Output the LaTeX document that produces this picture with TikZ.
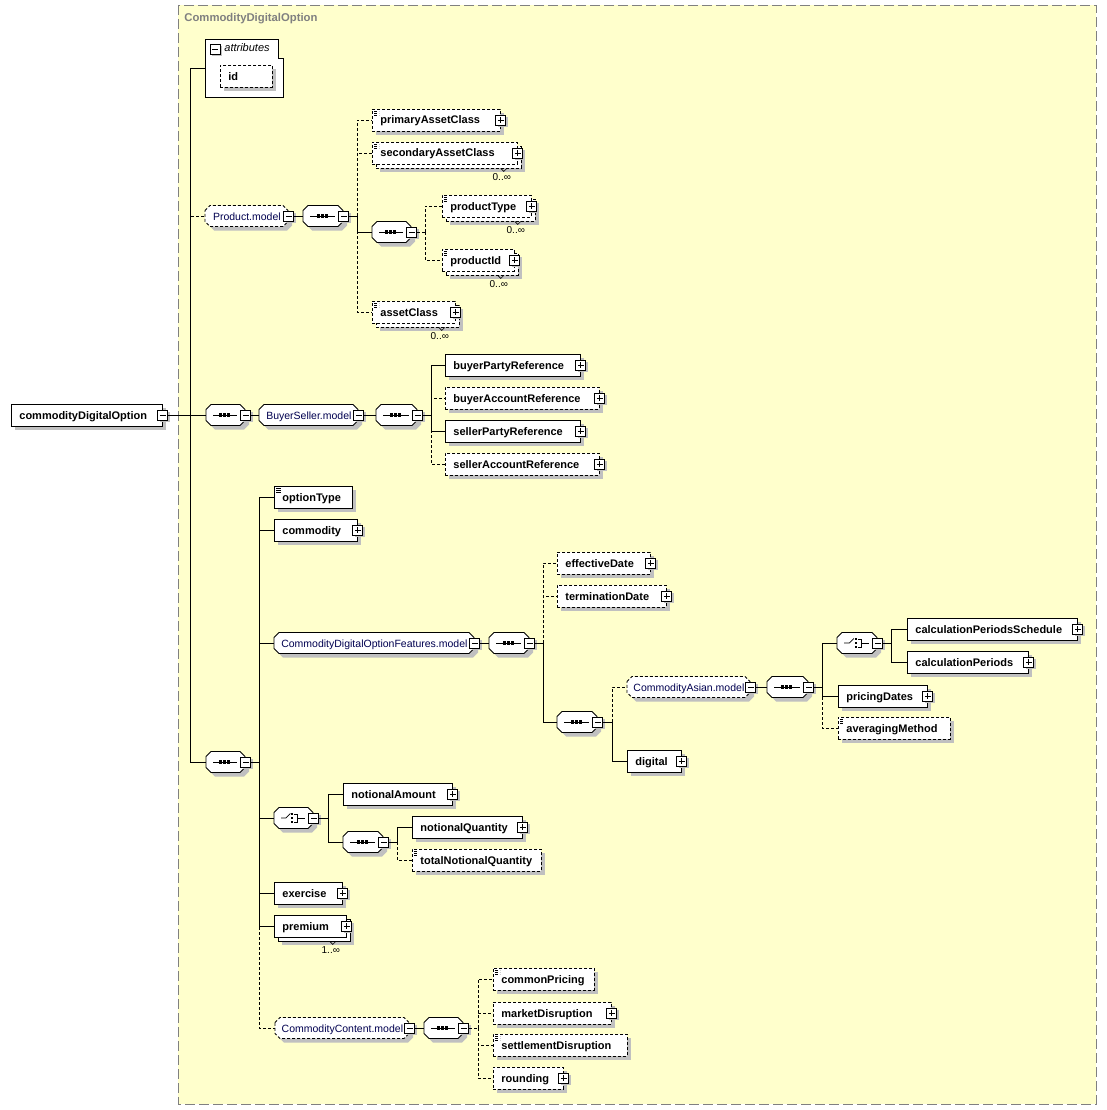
\documentclass[tikz,border=0pt]{standalone}
\usepackage{fontspec}
\setmainfont{Liberation Sans}
\usetikzlibrary{shadows,calc}

\definecolor{bgyellow}{RGB}{255,255,204}
\definecolor{framegray}{RGB}{128,128,128}
\definecolor{shadegray}{RGB}{192,192,192}
\definecolor{grptext}{RGB}{0,0,80}

\tikzset{
  opt/.style={dash pattern=on 3pt off 2pt},
  shade4/.style={drop shadow={shadow xshift=4pt,shadow yshift=-4pt,fill=shadegray,opacity=1}},
  elem/.style={draw, fill=white, anchor=west, minimum height=22pt, inner xsep=8pt, inner ysep=0pt,
    text width=#1, text height=10pt, text depth=2pt, align=left,
    font=\fontsize{11}{13}\selectfont\bfseries, shade4},
  multi/.style={drop shadow={shadow xshift=8pt,shadow yshift=-8pt,fill=shadegray,opacity=1},
    copy shadow={shadow xshift=4pt,shadow yshift=-4pt,fill=white,draw=black,opacity=1,#1}},
  simple/.style={path picture={
    \draw[line width=.7pt] ([shift={(2pt,-2.5pt)}]path picture bounding box.north west) -- ++(5pt,0pt);
    \draw[line width=.7pt] ([shift={(2pt,-4.5pt)}]path picture bounding box.north west) -- ++(5pt,0pt);
    \draw[line width=.7pt] ([shift={(2pt,-6.5pt)}]path picture bounding box.north west) -- ++(5pt,0pt);}},
  grpline/.style={draw, fill=white, shade4},
  grpbox/.style={anchor=west, inner sep=0pt, minimum height=21pt, minimum width=#1,
    text height=9.5pt, text depth=1.5pt, font=\fontsize{10.5}{12}\selectfont, text=grptext},
  xm/.style={draw, fill=white, minimum size=10pt, inner sep=0pt,
    drop shadow={shadow xshift=2pt,shadow yshift=-2pt,fill=shadegray,opacity=1},
    path picture={\draw ([xshift=2pt]path picture bounding box.west) -- ([xshift=-2pt]path picture bounding box.east);}},
  xp/.style={draw, fill=white, minimum size=10pt, inner sep=0pt,
    drop shadow={shadow xshift=2pt,shadow yshift=-2pt,fill=shadegray,opacity=1},
    path picture={\draw ([xshift=2pt]path picture bounding box.west) -- ([xshift=-2pt]path picture bounding box.east);
      \draw ([yshift=-2pt]path picture bounding box.north) -- ([yshift=2pt]path picture bounding box.south);}},
  mult/.style={font=\fontsize{10}{12}\selectfont, inner sep=0pt},
}

% model group / compositor: octagon, then a named node on it
% #1 options, #2 name, #3 left x, #4 centre y, #5 width, #6 text
\newcommand\grp[6][]{%
  \path[grpline,#1] (#3,{#4-5.5}) -- ({#3+5},{#4-10.5}) -- ({#3+#5-5},{#4-10.5}) -- ({#3+#5},{#4-5.5})
    -- ({#3+#5},{#4+5.5}) -- ({#3+#5-5},{#4+10.5}) -- ({#3+5},{#4+10.5}) -- (#3,{#4+5.5}) -- cycle;
  \node[grpbox=#5pt] (#2) at (#3,#4) {#6};}

% sequence glyph
\newcommand\seqicon[1]{%
  \draw ($(#1.west)+(7,0)$) -- ($(#1.east)+(-9,0)$);
  \fill ($(#1.center)+(-6.8,-1.6)$) rectangle ++(3,3.2);
  \fill ($(#1.center)+(-2.8,-1.6)$) rectangle ++(3,3.2);
  \fill ($(#1.center)+(1.2,-1.6)$) rectangle ++(3,3.2);}

% choice glyph
\newcommand\choiceicon[1]{%
  \draw ($(#1.west)+(7,0)$) -- ($(#1.center)+(-8,0)$) -- ($(#1.center)+(-3.5,-4.5)$);
  \fill ($(#1.center)+(-2.5,-5)$) rectangle ++(2,2);
  \fill ($(#1.center)+(-2.5,-1)$) rectangle ++(2,2);
  \fill ($(#1.center)+(-2.5,3)$) rectangle ++(2,2);
  \draw ($(#1.center)+(0.5,-4)$) -- ++(3,0) -- ++(0,8) -- ++(-3,0);
  \draw ($(#1.center)+(3.5,0)$) -- ($(#1.east)+(-9,0)$);}

% cardinality label under a repeated element
\newcommand\card[2]{%
  \node[mult] (#1-m) at ($(#1.south east)+(-16,13)$) {#2};
  \draw[line width=.6pt] ($(#1.south east)+(-17,4)$) -- ++(3,3) -- ++(3,-3);}

\begin{document}
\begin{tikzpicture}[x=1pt,y=-1pt,line width=.8pt]
\useasboundingbox (0,0) rectangle (1107,1110);

% frame of the complex type
\fill[bgyellow] (178,5) rectangle (1096,1104);
\draw[framegray, dash pattern=on 10pt off 4pt] (178,5) rectangle (1096,1104);
\node[anchor=west, inner sep=0pt, text=framegray, font=\fontsize{11.3}{13}\selectfont\bfseries] (ttl) at (184,19) {CommodityDigitalOption};

% root
\node[elem=135pt] (cdo) at (11,415) {commodityDigitalOption};
\node[xm] (cdo-x) at (cdo.east) {};

% attributes
\node[anchor=north west, minimum width=78pt, minimum height=58pt, inner sep=0pt] (att) at (205,39) {};
\draw[fill=white] (att.north west) -- ($(att.north east)+(-5,0)$) -- ($(att.north east)+(-5,19)$)
  -- ($(att.north east)+(0,19)$) -- (att.south east) -- (att.south west) -- cycle;
\node[xm] (att-x) at (215,49) {};
\node[anchor=west, inner sep=0pt, font=\fontsize{11}{13}\selectfont\itshape] (att-t) at (224,48) {attributes};
\node[elem=36pt, opt] (id) at (220,76.5) {id};

% Product.model
\grp[opt]{prod}{205}{216}{83}{Product.model}
\node[xm] (prod-x) at (prod.east) {};
\grp{seqP}{303}{216}{40}{}\seqicon{seqP}
\node[xm] (seqP-x) at (seqP.east) {};
\node[elem=112pt, opt, simple] (pac) at (372,120) {primaryAssetClass};
\node[xp] (pac-x) at (pac.east) {};
\node[elem=129pt, opt, simple, multi=opt] (sac) at (372,153) {secondaryAssetClass};
\node[xp] (sac-x) at (sac.east) {};
\card{sac}{0..∞}
\grp{seqP2}{372}{232}{39}{}\seqicon{seqP2}
\node[xm] (seqP2-x) at (seqP2.east) {};
\node[elem=73pt, opt, simple, multi=opt] (ptype) at (442,206) {productType};
\node[xp] (ptype-x) at (ptype.east) {};
\card{ptype}{0..∞}
\node[elem=56pt, opt, simple, multi=opt] (pid) at (442,260) {productId};
\node[xp] (pid-x) at (pid.east) {};
\card{pid}{0..∞}
\node[elem=67pt, opt, simple, multi=opt] (acl) at (372,312) {assetClass};
\node[xp] (acl-x) at (acl.east) {};
\card{acl}{0..∞}

% BuyerSeller.model
\grp{seqB}{206}{415}{39}{}\seqicon{seqB}
\node[xm] (seqB-x) at (seqB.east) {};
\grp{bsm}{259}{415}{99}{BuyerSeller.model}
\node[xm] (bsm-x) at (bsm.east) {};
\grp{seqB2}{376}{415}{41}{}\seqicon{seqB2}
\node[xm] (seqB2-x) at (seqB2.east) {};
\node[elem=119pt] (bpr) at (445,365) {buyerPartyReference};
\node[xp] (bpr-x) at (bpr.east) {};
\node[elem=138pt, opt] (bar) at (445,398) {buyerAccountReference};
\node[xp] (bar-x) at (bar.east) {};
\node[elem=119pt] (spr) at (445,431) {sellerPartyReference};
\node[xp] (spr-x) at (spr.east) {};
\node[elem=138pt, opt] (sar) at (445,464) {sellerAccountReference};
\node[xp] (sar-x) at (sar.east) {};

% option body
\grp{seqC}{206}{762}{39}{}\seqicon{seqC}
\node[xm] (seqC-x) at (seqC.east) {};
\node[elem=62pt, simple] (otype) at (274,497) {optionType};
\node[elem=67pt] (comm) at (274,530) {commodity};
\node[xp] (comm-x) at (comm.east) {};

\grp{cdof}{274}{643}{200}{CommodityDigitalOptionFeatures.model}
\node[xm] (cdof-x) at (cdof.east) {};
\grp{seqD}{489}{643}{40}{}\seqicon{seqD}
\node[xm] (seqD-x) at (seqD.east) {};
\node[elem=77pt, opt] (efd) at (557,563) {effectiveDate};
\node[xp] (efd-x) at (efd.east) {};
\node[elem=93pt, opt] (trd) at (557,596) {terminationDate};
\node[xp] (trd-x) at (trd.east) {};
\grp{seqE}{557}{722}{40}{}\seqicon{seqE}
\node[xm] (seqE-x) at (seqE.east) {};
\grp[opt]{cam}{627}{687}{123}{CommodityAsian.model}
\node[xm] (cam-x) at (cam.east) {};
\grp{seqF}{767}{687}{41}{}\seqicon{seqF}
\node[xm] (seqF-x) at (seqF.east) {};
\grp{chA}{837}{643}{40}{}\choiceicon{chA}
\node[xm] (chA-x) at (chA.east) {};
\node[elem=154pt] (cps) at (907,629) {calculationPeriodsSchedule};
\node[xp] (cps-x) at (cps.east) {};
\node[elem=105pt] (cpd) at (907,662) {calculationPeriods};
\node[xp] (cpd-x) at (cpd.east) {};
\node[elem=73pt] (prd) at (838,696) {pricingDates};
\node[xp] (prd-x) at (prd.east) {};
\node[elem=96pt, opt, simple] (avm) at (838,728) {averagingMethod};
\node[elem=38pt] (dig) at (627,761) {digital};
\node[xp] (dig-x) at (dig.east) {};

\grp{chB}{274}{818}{39}{}\choiceicon{chB}
\node[xm] (chB-x) at (chB.east) {};
\node[elem=93pt] (nam) at (343,794) {notionalAmount};
\node[xp] (nam-x) at (nam.east) {};
\grp{seqG}{343}{842}{40}{}\seqicon{seqG}
\node[xm] (seqG-x) at (seqG.east) {};
\node[elem=94pt] (nqt) at (412,827) {notionalQuantity};
\node[xp] (nqt-x) at (nqt.east) {};
\node[elem=113pt, opt, simple] (tnq) at (412,860) {totalNotionalQuantity};
\node[elem=52pt] (exe) at (274,893) {exercise};
\node[xp] (exe-x) at (exe.east) {};
\node[elem=56pt, multi=solid] (prem) at (274,926) {premium};
\node[xp] (prem-x) at (prem.east) {};
\card{prem}{1..∞}

\grp[opt]{ccm}{275}{1028}{134}{CommodityContent.model}
\node[xm] (ccm-x) at (ccm.east) {};
\grp{seqH}{424}{1028}{39}{}\seqicon{seqH}
\node[xm] (seqH-x) at (seqH.east) {};
\node[elem=85pt, opt, simple] (cpr) at (493,979) {commonPricing};
\node[elem=102pt, opt] (mdr) at (493,1013) {marketDisruption};
\node[xp] (mdr-x) at (mdr.east) {};
\node[elem=118pt, opt, simple] (sdr) at (493,1045) {settlementDisruption};
\node[elem=54pt, opt] (rnd) at (493,1078) {rounding};
\node[xp] (rnd-x) at (rnd.east) {};

% buses
\coordinate (bA) at (190,0);
\coordinate (bP) at (357,0);
\coordinate (bP2) at (425,0);
\coordinate (bB) at (431,0);
\coordinate (bC) at (259,0);
\coordinate (bD) at (543,0);
\coordinate (bE) at (612,0);
\coordinate (bF) at (822,0);
\coordinate (bFa) at (891,0);
\coordinate (bG) at (328,0);
\coordinate (bG2) at (397,0);
\coordinate (bH) at (478,0);

% connectors
\draw (cdo-x.east) -- (bA |- cdo-x.east);
\draw[opt] (bA |- cdo-x.east) |- (prod.west);
\foreach \c in {att,seqB,seqC} \draw (bA |- cdo-x.east) |- (\c.west);

\draw (prod-x.east) -- (seqP.west);
\foreach \c in {pac,sac,acl} \draw[opt] (bP |- seqP-x.east) |- (\c.west);
\draw (seqP-x.east) -- (bP |- seqP-x.east) |- (seqP2.west);
\draw[opt] (seqP2-x.east) -- (bP2 |- seqP2-x.east);
\foreach \c in {ptype,pid} \draw[opt] (bP2 |- seqP2-x.east) |- (\c.west);

\draw (seqB-x.east) -- (bsm.west);
\draw (bsm-x.east) -- (seqB2.west);
\draw (seqB2-x.east) -- (bB |- seqB2-x.east);
\foreach \c in {bar,sar} \draw[opt] (bB |- seqB2-x.east) |- (\c.west);
\foreach \c in {bpr,spr} \draw (bB |- seqB2-x.east) |- (\c.west);

\draw (seqC-x.east) -- (bC |- seqC-x.east);
\draw[opt] (bC |- seqC-x.east) |- (ccm.west);
\foreach \c in {otype,comm,cdof,chB,exe,prem} \draw (bC |- seqC-x.east) |- (\c.west);

\draw (cdof-x.east) -- (seqD.west);
\draw (seqD-x.east) -- (bD |- seqD-x.east);
\foreach \c in {efd,trd} \draw[opt] (bD |- seqD-x.east) |- (\c.west);
\draw (bD |- seqD-x.east) |- (seqE.west);
\draw (seqE-x.east) -- (bE |- seqE-x.east);
\draw[opt] (bE |- seqE-x.east) |- (cam.west);
\draw (bE |- seqE-x.east) |- (dig.west);
\draw (cam-x.east) -- (seqF.west);
\draw (seqF-x.east) -- (bF |- seqF-x.east);
\draw[opt] (bF |- seqF-x.east) |- (avm.west);
\foreach \c in {chA,prd} \draw (bF |- seqF-x.east) |- (\c.west);
\draw (chA-x.east) -- (bFa |- chA-x.east);
\foreach \c in {cps,cpd} \draw (bFa |- chA-x.east) |- (\c.west);

\draw (chB-x.east) -- (bG |- chB-x.east);
\foreach \c in {nam,seqG} \draw (bG |- chB-x.east) |- (\c.west);
\draw (seqG-x.east) -- (bG2 |- seqG-x.east);
\draw[opt] (bG2 |- seqG-x.east) |- (tnq.west);
\draw (bG2 |- seqG-x.east) |- (nqt.west);

\draw (ccm-x.east) -- (seqH.west);
\draw[opt] (seqH-x.east) -- (bH |- seqH-x.east);
\foreach \c in {cpr,mdr,sdr,rnd} \draw[opt] (bH |- seqH-x.east) |- (\c.west);
\end{tikzpicture}
\end{document}
